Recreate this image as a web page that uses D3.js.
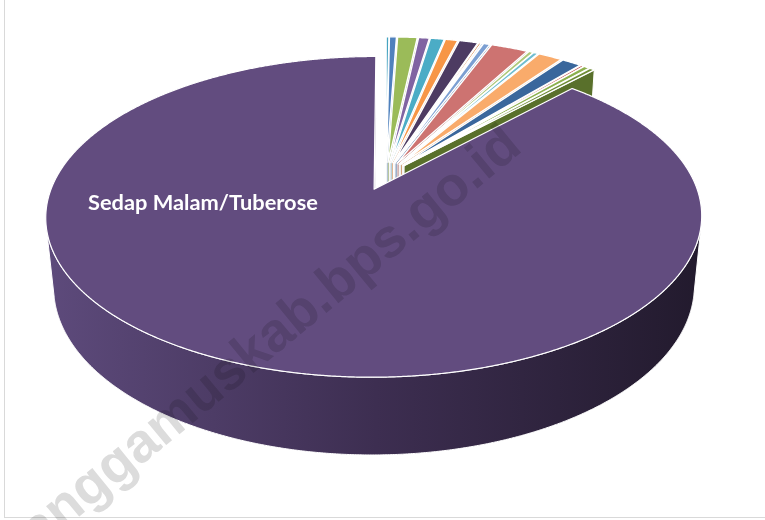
<!DOCTYPE html>
<html>
<head>
<meta charset="utf-8">
<script src="https://cdn.jsdelivr.net/npm/d3@7"></script>
<style>
  html, body { margin: 0; padding: 0; background: #ffffff; }
  svg { display: block; }
</style>
</head>
<body>
<svg id="chart" width="765" height="520"></svg>
<script>
// Ornamental plant categories, clockwise from 12 o'clock
const categories = [
  "Anggrek/Orchid", "Anthurium Bunga/Anthurium Flower", "Anyelir/Carnation",
  "Gerbera (Herbras)", "Gladiol/Gladiolus", "Heliconia (Pisang-pisangan)",
  "Krisan/Chrysanthemum", "Mawar/Rose", "Melati/Jasmine", "Dracaena",
  "Palem/Palm", "Aglaonema", "Adenium (Kamboja Jepang)",
  "Anthurium Daun/Anthurium Leaf", "Caladium", "Cordyline",
  "Diffenbachia", "Euphorbia", "Sedap Malam/Tuberose"
];
// Share of each category (%)
const values = [
  0.17, 0.42, 1.17, 0.64, 0.83, 0.75, 1.14, 0.14, 0.11, 0.39,
  2.22, 0.28, 0.28, 1.44, 1.17, 0.19, 0.36, 0.31, 88.0
];
const colors = [
  "#46a3c0", "#4f81bd", "#9bbb59", "#8064a2", "#4bacc6", "#f79646",
  "#4d3b62", "#d0722a", "#729aca", "#7b9fd2", "#cd7371", "#afc97a",
  "#6fbdd1", "#f9ab6b", "#3a679c", "#c0504d", "#8db04e", "#6e8b35",
  "#624c7f"
];
const labelled = ["Sedap Malam/Tuberose"];
const watermark = "tanggamuskab.bps.go.id";

const W = 765, H = 520;
const svg = d3.select("#chart");

// 3D view of the pie: perspective camera looking down on a disc
const view = {
  cx: 386, cy: 175, k: 318, dist: 5.2, tilt: 28.3 * Math.PI / 180, depth: 0.249,
  explodeLarge: 0.1, explodeSmall: 0.085
};
const sT = Math.sin(view.tilt), cT = Math.cos(view.tilt);
const cam = [0, view.dist * sT, view.dist * cT];

function project(X, Y, Z) {
  const dep = view.dist - (Z * cT + Y * sT);
  const yc = Y * cT - Z * sT;
  return [view.cx + view.k * view.dist * X / dep, view.cy - view.k * view.dist * yc / dep];
}

// background frame lines
svg.append("line").attr("x1", 4.5).attr("x2", 4.5).attr("y1", 0).attr("y2", 517)
  .attr("stroke", "#d9d9d9").attr("stroke-width", 1);
svg.append("line").attr("x1", 4).attr("x2", W).attr("y1", 517.5).attr("y2", 517.5)
  .attr("stroke", "#d9d9d9").attr("stroke-width", 1);

const defs = svg.append("defs");
const grad = defs.append("linearGradient").attr("id", "wallMain")
  .attr("gradientUnits", "userSpaceOnUse").attr("x1", 50).attr("x2", 703).attr("y1", 0).attr("y2", 0);
grad.append("stop").attr("offset", 0).attr("stop-color", "#5d4a7b");
grad.append("stop").attr("offset", 0.5).attr("stop-color", "#3d2e51");
grad.append("stop").attr("offset", 1).attr("stop-color", "#221a2d");

const total = d3.sum(values);
const arcs = d3.pie().sort(null).value(d => d)(values).map((a, i) => {
  const m = (a.startAngle + a.endAngle) / 2;
  const e = values[i] / total > 0.5 ? view.explodeLarge : view.explodeSmall;
  return {
    i, a0: a.startAngle, a1: a.endAngle, mid: m,
    ox: e * Math.sin(m), oz: -e * Math.cos(m)
  };
});

const line = d3.line();
const STEP = Math.PI / 720;

function rim(s, t0, t1, Y) {
  const n = Math.max(1, Math.ceil((t1 - t0) / STEP));
  const pts = [];
  for (let j = 0; j <= n; j++) {
    const t = t0 + (t1 - t0) * j / n;
    pts.push(project(s.ox + Math.sin(t), Y, s.oz - Math.cos(t)));
  }
  return pts;
}
function facing(n, p) {
  return n[0] * (cam[0] - p[0]) + n[1] * (cam[1] - p[1]) + n[2] * (cam[2] - p[2]);
}

const g = svg.append("g");
const order = arcs.slice().sort((p, q) => (p.oz - 0.5 * Math.cos(p.mid)) - (q.oz - 0.5 * Math.cos(q.mid)));
const hgt = -view.depth;

order.forEach(s => {
  const base = colors[s.i];
  const isMain = values[s.i] / total > 0.5;
  const wallFill = isMain ? "url(#wallMain)" : d3.color(base).darker(0.9).formatHex();
  const sideFill = isMain ? "#3a2c4d" : d3.color(base).darker(0.6).formatHex();
  const sg = g.append("g");

  // radial cut faces
  [[s.a0, -1], [s.a1, 1]].forEach(([t, sign]) => {
    const n = [sign * Math.cos(t), 0, sign * Math.sin(t)];
    const p = [s.ox + 0.5 * Math.sin(t), -view.depth / 2, s.oz - 0.5 * Math.cos(t)];
    if (facing(n, p) > 0) {
      const pts = [
        project(s.ox, 0, s.oz),
        project(s.ox + Math.sin(t), 0, s.oz - Math.cos(t)),
        project(s.ox + Math.sin(t), hgt, s.oz - Math.cos(t)),
        project(s.ox, hgt, s.oz)
      ];
      sg.append("path").attr("d", line(pts) + "Z").attr("fill", sideFill)
        .attr("stroke", "#ffffff").attr("stroke-width", 1).attr("stroke-linejoin", "round");
    }
  });

  // outer curved wall, visible runs only
  const n = Math.max(2, Math.ceil((s.a1 - s.a0) / STEP));
  let run = null;
  const runs = [];
  for (let j = 0; j <= n; j++) {
    const t = s.a0 + (s.a1 - s.a0) * j / n;
    const nn = [Math.sin(t), 0, -Math.cos(t)];
    const p = [s.ox + Math.sin(t), -view.depth / 2, s.oz - Math.cos(t)];
    const v = facing(nn, p) > 0;
    if (v && !run) { run = [t, t]; runs.push(run); }
    if (v && run) run[1] = t;
    if (!v) run = null;
  }
  runs.forEach(([t0, t1]) => {
    const top = rim(s, t0, t1, 0);
    const bot = rim(s, t0, t1, hgt).reverse();
    sg.append("path").attr("d", line(top.concat(bot)) + "Z").attr("fill", wallFill)
      .attr("stroke", "#ffffff").attr("stroke-width", 1).attr("stroke-linejoin", "round");
  });

  // top face
  const topPts = [project(s.ox, 0, s.oz)].concat(rim(s, s.a0, s.a1, 0));
  sg.append("path").attr("d", line(topPts) + "Z").attr("fill", base)
    .attr("stroke", "#ffffff").attr("stroke-width", isMain ? 1.2 : 1.4).attr("stroke-linejoin", "round");
});

// data label
const lab = svg.append("text")
  .attr("x", 88).attr("y", 210)
  .attr("fill", "#ffffff")
  .attr("font-family", "Lato, 'Open Sans', sans-serif")
  .attr("font-weight", "bold")
  .attr("font-size", 21)
  .text(labelled[0]);
const wl = lab.node().getComputedTextLength();
lab.attr("font-size", 21 * 230 / wl);

// watermark
svg.append("text")
  .attr("transform", "translate(524,150) rotate(-39.5)")
  .attr("text-anchor", "end")
  .attr("fill", "#dcdcdc")
  .style("mix-blend-mode", "multiply")
  .attr("font-family", "'Liberation Sans', Arial, sans-serif")
  .attr("font-weight", "bold")
  .attr("font-size", 55)
  .text(watermark);
</script>
</body>
</html>
